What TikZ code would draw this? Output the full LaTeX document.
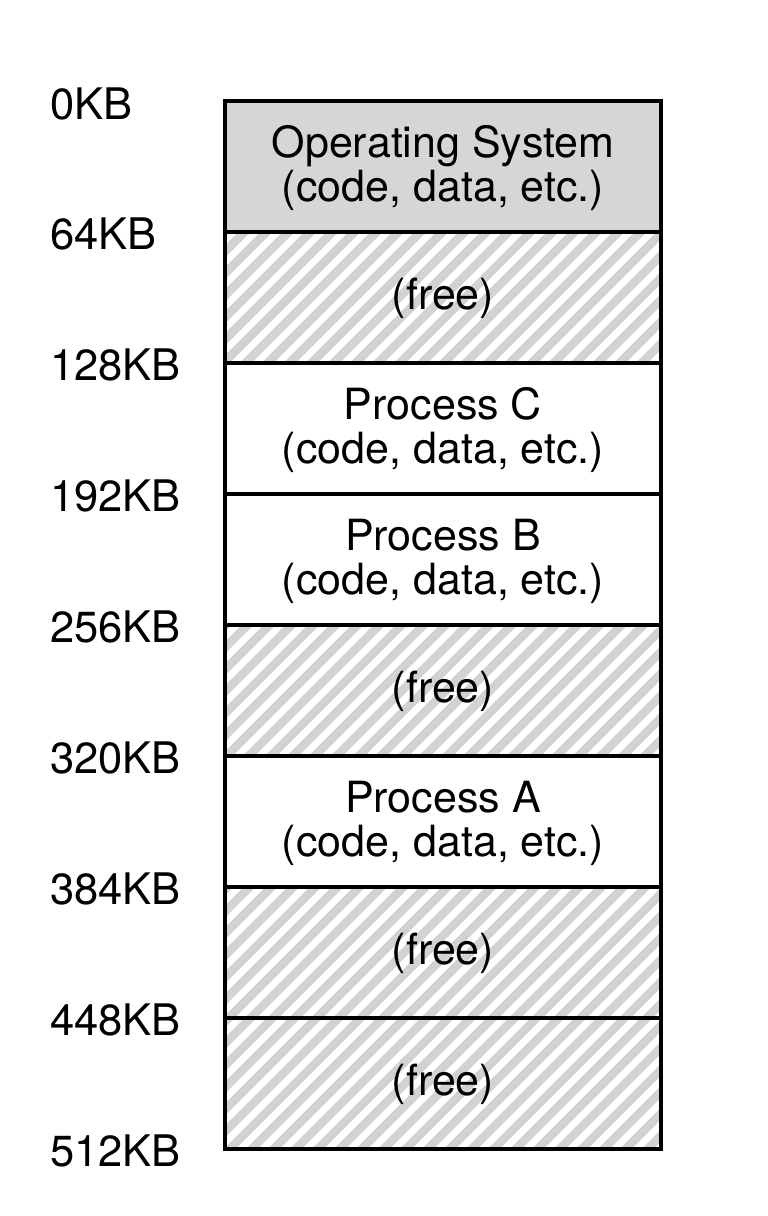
\documentclass[tikz,border=0pt]{standalone}
\usepackage{fontspec}
\setmainfont{TeX Gyre Heros}
\definecolor{cellgray}{HTML}{D6D6D6}
\definecolor{hatchgray}{HTML}{D2D2D2}
\begin{document}
\begin{tikzpicture}[x=1pt,y=-1pt,
  every node/.style={inner sep=0pt},
  celltext/.style={align=center, font=\fontsize{43}{44}\selectfont},
  addr/.style={anchor=west, font=\fontsize{43.5}{44}\selectfont},
  border/.style={line width=4pt},
  stripe/.style={draw=hatchgray, line width=8.5pt}]
\useasboundingbox (0,0) rectangle (768,1216);
% OS fill
\fill[cellgray] (225,101) rectangle (661,232);
% hatching of free cells
\begin{scope}
  \clip (225,232) rectangle (661,363)
        (225,625) rectangle (661,756)
        (225,887) rectangle (661,1149);
  \foreach \c in {432.5,454.5,...,1880} {
    \draw[stripe] (\c-212,212) -- (\c-1169,1169);
  }
\end{scope}
% dividers and frame
\foreach \yy in {232,363,494,625,756,887,1018} {
  \draw[border] (225,\yy) -- (661,\yy);
}
\draw[border] (225,101) rectangle (661,1149);
% cell texts
\node[celltext] (os) at (443,168) {Operating System\\(code, data, etc.)};
\node[celltext] (free1) at (443,298) {(free)};
\node[celltext] (procC) at (443,430) {Process C\\(code, data, etc.)};
\node[celltext] (procB) at (443,561) {Process B\\(code, data, etc.)};
\node[celltext] (free2) at (443,691) {(free)};
\node[celltext] (procA) at (443,823) {Process A\\(code, data, etc.)};
\node[celltext] (free3) at (443,953) {(free)};
\node[celltext] (free4) at (443,1084) {(free)};
% addresses
\node[addr] (a0) at (50,104) {0KB};
\node[addr] (a64) at (50,234) {64KB};
\node[addr] (a128) at (50,365) {128KB};
\node[addr] (a192) at (50,496) {192KB};
\node[addr] (a256) at (50,627) {256KB};
\node[addr] (a320) at (50,758) {320KB};
\node[addr] (a384) at (50,889) {384KB};
\node[addr] (a448) at (50,1020) {448KB};
\node[addr] (a512) at (50,1151) {512KB};
\end{tikzpicture}
\end{document}
